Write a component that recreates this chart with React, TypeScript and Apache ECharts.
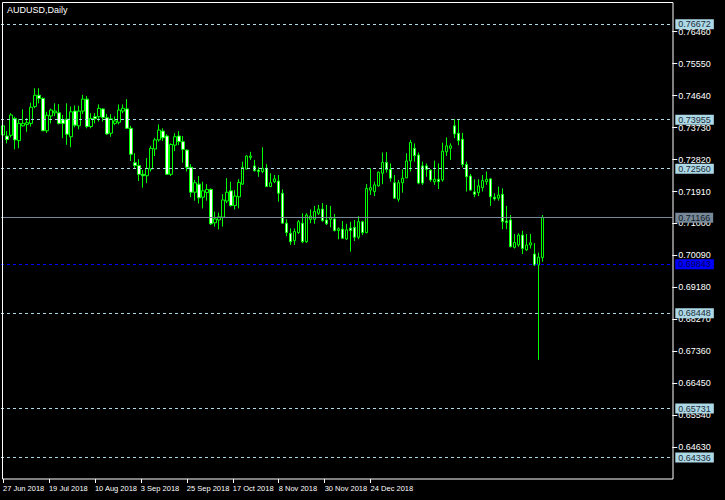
import React, { useEffect, useRef } from "react";
import * as echarts from "echarts";

// Daily AUDUSD candles (27 Jun 2018 .. 4 Jan 2019)
const opens = [
  0.7352, 0.7349, 0.7351, 0.7399, 0.7336, 0.7378, 0.7382, 0.7385, 0.7433, 0.7465,
  0.7456, 0.7364, 0.7406, 0.7415, 0.7415, 0.7395, 0.7397, 0.7347, 0.742, 0.7378,
  0.742, 0.7454, 0.7376, 0.7404, 0.7404, 0.7426, 0.7401, 0.7357, 0.7385, 0.7388,
  0.742, 0.7426, 0.7371, 0.7273, 0.7265, 0.724, 0.7236, 0.7255, 0.7312, 0.7338,
  0.7363, 0.7349, 0.724, 0.7323, 0.7349, 0.7333, 0.7309, 0.726, 0.7189, 0.7212,
  0.7175, 0.7188, 0.7197, 0.7102, 0.711, 0.7118, 0.7164, 0.7193, 0.7151, 0.7176,
  0.7212, 0.7255, 0.7288, 0.7264, 0.7252, 0.7248, 0.7257, 0.7205, 0.7219, 0.7221,
  0.7186, 0.7101, 0.7072, 0.7051, 0.7074, 0.7101, 0.7048, 0.7112, 0.7112, 0.7129,
  0.7141, 0.711, 0.7112, 0.7113, 0.708, 0.7084, 0.7056, 0.7087, 0.7089, 0.7061,
  0.7105, 0.7074, 0.7195, 0.7191, 0.7207, 0.7243, 0.7274, 0.7254, 0.7216, 0.7169,
  0.7216, 0.723, 0.7278, 0.7314, 0.7295, 0.7264, 0.7264, 0.7252, 0.7219, 0.7226,
  0.7224, 0.7304, 0.7314, 0.7378, 0.7357, 0.734, 0.7268, 0.7235, 0.719, 0.7188,
  0.7202, 0.7219, 0.7227, 0.7175, 0.7172, 0.7183, 0.7107, 0.711, 0.7032, 0.7039,
  0.7067, 0.7025, 0.7039, 0.7013, 0.6982, 0.7003,
];
const closes = [
  0.7378, 0.7339, 0.7409, 0.7338, 0.7385, 0.7385, 0.7387, 0.7431, 0.7465, 0.7456,
  0.7364, 0.7408, 0.7423, 0.742, 0.7385, 0.7385, 0.7354, 0.7418, 0.738, 0.742,
  0.7454, 0.7376, 0.7399, 0.7398, 0.7428, 0.7402, 0.7355, 0.7398, 0.7392, 0.7423,
  0.7428, 0.7371, 0.7297, 0.7265, 0.724, 0.7236, 0.7257, 0.7314, 0.7338, 0.7366,
  0.7344, 0.724, 0.7325, 0.7347, 0.7333, 0.7311, 0.726, 0.7189, 0.7216, 0.7173,
  0.7193, 0.7197, 0.7099, 0.7113, 0.7119, 0.7167, 0.7189, 0.7151, 0.7178, 0.7217,
  0.726, 0.7292, 0.7292, 0.725, 0.7248, 0.7257, 0.7205, 0.7216, 0.7227, 0.7186,
  0.7101, 0.7074, 0.7048, 0.7077, 0.7105, 0.7048, 0.7124, 0.7121, 0.7134, 0.7141,
  0.7108, 0.7099, 0.7118, 0.708, 0.7085, 0.7058, 0.7082, 0.708, 0.7061, 0.7105,
  0.7074, 0.72, 0.7202, 0.721, 0.7246, 0.7274, 0.7254, 0.7229, 0.7172, 0.7216,
  0.7229, 0.7278, 0.7331, 0.7293, 0.7215, 0.7215, 0.7254, 0.7224, 0.7226, 0.7219,
  0.7306, 0.7321, 0.7321, 0.7355, 0.7336, 0.7268, 0.7233, 0.7195, 0.7183, 0.7207,
  0.7222, 0.7226, 0.7176, 0.717, 0.7181, 0.7105, 0.7103, 0.7034, 0.7046, 0.7067,
  0.7029, 0.7039, 0.7045, 0.6982, 0.7004, 0.7117,
];
const lows = [
  0.7335, 0.7328, 0.7345, 0.7311, 0.7314, 0.7376, 0.7361, 0.7376, 0.7428, 0.7442,
  0.7363, 0.7358, 0.7385, 0.7406, 0.7382, 0.7343, 0.7324, 0.7317, 0.7374, 0.7368,
  0.7412, 0.7371, 0.7371, 0.7385, 0.739, 0.739, 0.7352, 0.7347, 0.738, 0.7382,
  0.7414, 0.7369, 0.7278, 0.7257, 0.7221, 0.7202, 0.7215, 0.7248, 0.7292, 0.7333,
  0.7335, 0.7238, 0.7235, 0.7306, 0.7323, 0.7273, 0.7248, 0.7175, 0.7165, 0.7157,
  0.7143, 0.7165, 0.7096, 0.7091, 0.7083, 0.7091, 0.7158, 0.7148, 0.714, 0.7143,
  0.721, 0.7254, 0.7281, 0.7248, 0.7233, 0.7243, 0.7204, 0.7204, 0.7215, 0.7162,
  0.71, 0.7064, 0.7039, 0.7039, 0.707, 0.7044, 0.7045, 0.7101, 0.7099, 0.7124,
  0.7105, 0.7096, 0.7089, 0.7077, 0.7055, 0.7056, 0.7053, 0.702, 0.705, 0.7055,
  0.7067, 0.7072, 0.7181, 0.7178, 0.7205, 0.7212, 0.7245, 0.7219, 0.717, 0.7162,
  0.7188, 0.7229, 0.7248, 0.7276, 0.7212, 0.721, 0.7233, 0.7219, 0.721, 0.7198,
  0.7219, 0.7292, 0.7281, 0.7343, 0.7323, 0.726, 0.7191, 0.7194, 0.7175, 0.7178,
  0.7191, 0.721, 0.715, 0.7165, 0.7165, 0.7084, 0.7084, 0.7032, 0.7029, 0.7034,
  0.7013, 0.7022, 0.7029, 0.6979, 0.6712, 0.6991,
];
const highs = [
  0.7393, 0.7363, 0.7414, 0.7404, 0.7397, 0.7425, 0.74, 0.7444, 0.7485, 0.7485,
  0.7459, 0.7418, 0.7427, 0.7442, 0.744, 0.7409, 0.7442, 0.7433, 0.7436, 0.7435,
  0.7466, 0.7463, 0.7414, 0.7414, 0.7439, 0.7428, 0.7412, 0.7411, 0.7405, 0.7439,
  0.7439, 0.7454, 0.7378, 0.73, 0.7283, 0.7252, 0.7286, 0.7321, 0.7344, 0.7382,
  0.7371, 0.7354, 0.7328, 0.7357, 0.7363, 0.7349, 0.7311, 0.7269, 0.7224, 0.7235,
  0.7219, 0.7212, 0.72, 0.7134, 0.7131, 0.7184, 0.7229, 0.7219, 0.7195, 0.7226,
  0.7276, 0.7294, 0.7304, 0.7281, 0.726, 0.7317, 0.7269, 0.7243, 0.7238, 0.7238,
  0.7197, 0.7112, 0.7086, 0.7086, 0.711, 0.7129, 0.7129, 0.714, 0.715, 0.7153,
  0.7158, 0.7153, 0.715, 0.7127, 0.7089, 0.7107, 0.7099, 0.7105, 0.711, 0.7121,
  0.7108, 0.7212, 0.7257, 0.7219, 0.7248, 0.7302, 0.7303, 0.7271, 0.7238, 0.7224,
  0.7254, 0.73, 0.7338, 0.7328, 0.7302, 0.7276, 0.7271, 0.7254, 0.7279, 0.7271,
  0.733, 0.7345, 0.7328, 0.7397, 0.7397, 0.7358, 0.7276, 0.7241, 0.7226, 0.7226,
  0.7238, 0.7248, 0.7229, 0.7186, 0.7205, 0.72, 0.715, 0.7124, 0.707, 0.7072,
  0.7079, 0.707, 0.707, 0.7044, 0.7017, 0.7124,
];

// Chart shift: empty slots to the right of the last bar
const totalSlots = 168;
const slotCategories = Array.from({ length: totalSlots }, (_, i) => String(i));

const priceTicks = [
  "0.76460", "0.75550", "0.74640", "0.73730", "0.72820", "0.71910", "0.71000",
  "0.70090", "0.69180", "0.68270", "0.67360", "0.66450", "0.65540", "0.64630",
];
const dateLabels = [
  "27 Jun 2018", "19 Jul 2018", "10 Aug 2018", "3 Sep 2018", "25 Sep 2018",
  "17 Oct 2018", "8 Nov 2018", "30 Nov 2018", "24 Dec 2018",
];
const dateLabelSlots = [0, 11.5, 23, 34.5, 46, 57.5, 69, 80.5, 92];

const levelLines = [0.76672, 0.73955, 0.7256, 0.68448, 0.65731, 0.64336];
const bidLine = 0.71166;
const blueLine = 0.69843;
const priceMin = 0.63727;
const priceMax = 0.77305;

const FONT = "'Liberation Sans', Arial, sans-serif";

export default function App() {
  const ref = useRef<HTMLDivElement>(null);
  useEffect(() => {
    if (!ref.current) return;
    const chart = echarts.init(ref.current, undefined, { renderer: "svg" });
    const candles = opens.map((o, i) => [o, closes[i], lows[i], highs[i]]);
    const yTickVals = priceTicks.map((t) => parseFloat(t));
    chart.setOption({
      animation: false,
      backgroundColor: "#000000",
      textStyle: { fontFamily: FONT },
      title: {
        text: "AUDUSD,Daily",
        left: 7,
        top: 5,
        padding: 0,
        textStyle: { color: "#ffffff", fontSize: 9, fontWeight: "normal", fontFamily: FONT },
      },
      grid: { left: 0.3, top: 2, width: 672, height: 477 },
      xAxis: [
        {
          type: "category",
          data: slotCategories,
          boundaryGap: true,
          axisLine: { show: false, onZero: false },
          axisTick: { show: false },
          axisLabel: { show: false },
          splitLine: { show: false },
        },
        {
          type: "value",
          position: "bottom",
          min: -0.5,
          max: totalSlots - 0.5,
          axisLine: { show: false, onZero: false },
          splitLine: { show: false },
          axisTick: {
            show: true,
            customValues: dateLabelSlots,
            length: 4,
            lineStyle: { color: "#ffffff", width: 1 },
          },
          axisLabel: {
            show: true,
            showMinLabel: true,
            showMaxLabel: true,
            hideOverlap: false,
            customValues: dateLabelSlots,
            formatter: (v: number) => {
              const k = dateLabelSlots.findIndex((s) => Math.abs(s - v) < 0.01);
              return k >= 0 ? dateLabels[k] : "";
            },
            color: "#ffffff",
            fontSize: 7.5,
            fontFamily: FONT,
            align: "left",
            margin: 5,
          },
        },
      ],
      yAxis: {
        type: "value",
        position: "right",
        min: priceMin,
        max: priceMax,
        axisLine: { show: false, onZero: false },
        splitLine: { show: false },
        axisTick: {
          show: true,
          customValues: yTickVals,
          length: 5,
          lineStyle: { color: "#ffffff", width: 1 },
        },
        axisLabel: {
          show: true,
          customValues: yTickVals,
          formatter: (v: number) => v.toFixed(5),
          color: "#ffffff",
          fontSize: 9,
          fontFamily: FONT,
          margin: 6,
        },
      },
      series: [
        {
          type: "candlestick",
          data: candles,
          barWidth: 3,
          itemStyle: {
            color: "#000000",
            color0: "#ffffff",
            borderColor: "#00ff00",
            borderColor0: "#00ff00",
            borderWidth: 1,
          },
          markLine: {
            silent: true,
            precision: 5,
            symbol: ["none", "none"],
            label: {
              show: true,
              position: "end",
              distance: 3,
              fontSize: 9,
              fontFamily: FONT,
              padding: [1, 3, 0, 3],
              lineHeight: 9,
              formatter: (p: any) => Number(p.value).toFixed(5),
            },
            data: [
              ...levelLines.map((v) => ({
                yAxis: v,
                lineStyle: { color: "#add8e6", type: [3, 3], width: 1, opacity: 1 },
                label: { backgroundColor: "#add8e6", color: "#1c2c38" },
              })),
              {
                yAxis: bidLine,
                lineStyle: { color: "#778899", type: "solid", width: 1, opacity: 1 },
                label: { backgroundColor: "#778899", color: "#101820" },
              },
              {
                yAxis: blueLine,
                lineStyle: { color: "#0000ff", type: [3, 3], width: 1, opacity: 1 },
                label: { backgroundColor: "#0000ff", color: "#000050" },
              },
            ],
          },
        },
      ],
      graphic: [
        {
          type: "rect",
          z: 50,
          silent: true,
          shape: { x: 2.5, y: 2.5, width: 670.5, height: 476.5 },
          style: { fill: "none", stroke: "#ffffff", lineWidth: 1 },
        },
      ],
    });
    return () => chart.dispose();
  }, []);
  return (
    <div
      ref={ref}
      style={{ position: "fixed", left: 0, top: 0, width: 725, height: 500, background: "#000" }}
    />
  );
}
